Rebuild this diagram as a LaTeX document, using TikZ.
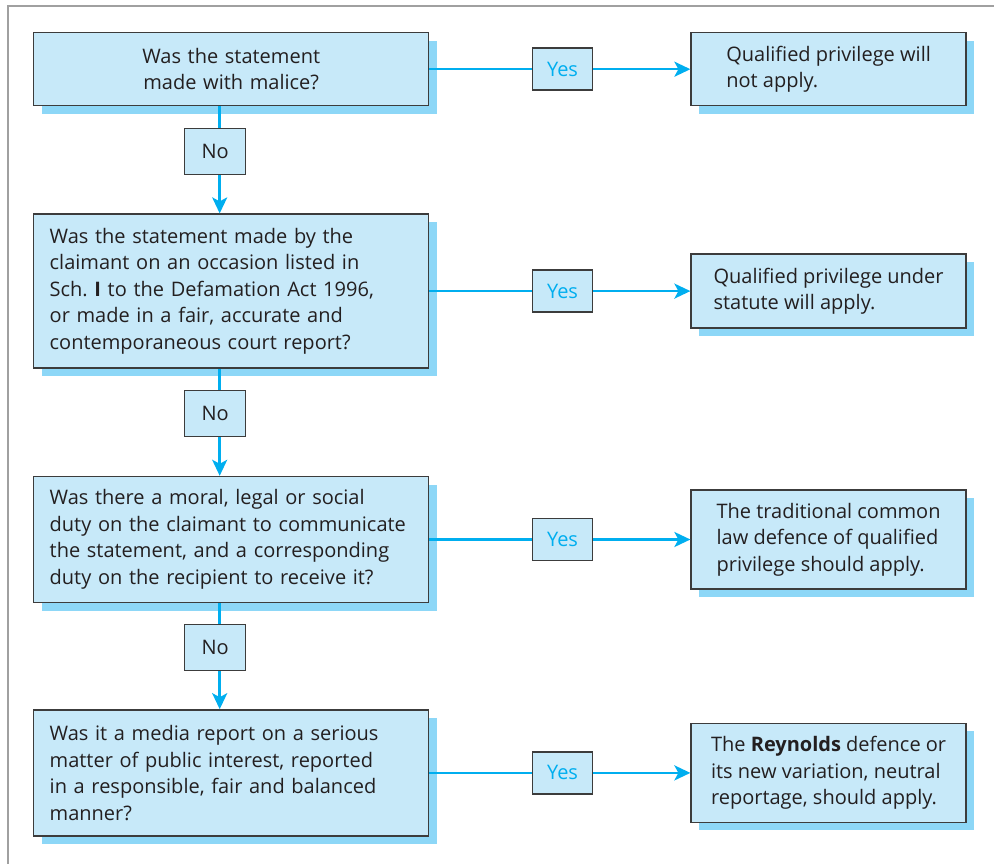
\documentclass[tikz,border=0pt]{standalone}
\usepackage{fontspec}
\setmainfont{Open Sans}
\usetikzlibrary{arrows.meta,positioning,shadows}
\definecolor{boxfill}{RGB}{199,233,249}
\definecolor{shadowblue}{RGB}{141,215,247}
\definecolor{flowcyan}{RGB}{0,174,239}
\definecolor{boxline}{RGB}{60,60,60}
\definecolor{ink}{RGB}{35,31,32}
\definecolor{framegrey}{RGB}{160,160,160}
\tikzset{%
  >={Stealth[length=16pt,width=15pt,inset=4pt]},
  % Specifications for style of nodes:
          base/.style = {rectangle, draw=boxline, line width=1.4pt, fill=boxfill,
                         text=ink, font=\fontsize{20}{26.5}\selectfont},
      shadowed/.style = {drop shadow={shadow xshift=8pt, shadow yshift=-8pt,
                         fill=shadowblue, opacity=1}},
      question/.style = {base, shadowed, text width=363pt, inner xsep=16pt, align=left},
        answer/.style = {base, shadowed, minimum width=275pt, align=left},
        yesbox/.style = {base, minimum width=60pt, minimum height=42pt, text=flowcyan},
         nobox/.style = {base, minimum width=61pt, minimum height=46pt},
          flow/.style = {draw=flowcyan, line width=2.5pt},
}

\begin{document}
\begin{tikzpicture}[x=1pt, y=1pt]
    \useasboundingbox (0,0) rectangle (994,-864);
    \draw [framegrey, line width=2.5pt] (994,-6) -- (8,-6) -- (8,-864);

    \node (malice) [question, align=center, minimum height=73pt, anchor=north west] at (33,-32)
        {Was the statement\\made with malice?};
    \node (sch_one) [question, minimum height=154pt, below = 107pt of malice]
        {Was the statement made by the\\claimant on an occasion listed in\\Sch.\ \textbf{I} to the Defamation Act 1996,\\or made in a fair, accurate and\\contemporaneous court report?};
    \node (duty) [question, minimum height=126pt, below = 107pt of sch_one]
        {Was there a moral, legal or social\\duty on the claimant to communicate\\the statement, and a corresponding\\duty on the recipient to receive it?};
    \node (media_report) [question, minimum height=126pt, below = 106pt of duty]
        {Was it a media report on a serious\\matter of public interest, reported\\in a responsible, fair and balanced\\manner?};

    \node (not_apply) [answer, minimum height=73pt, right = 261pt of malice]
        {Qualified privilege will\\not apply.};
    \node (statute_applies) [answer, minimum height=74pt, right = 261pt of sch_one]
        {Qualified privilege under\\statute will apply.};
    \node (common_law) [answer, minimum height=99pt, right = 261pt of duty]
        {The traditional common\\law defence of qualified\\privilege should apply.};
    \node (reynolds) [answer, minimum height=99pt, right = 261pt of media_report]
        {The \textbf{Reynolds} defence or\\its new variation, neutral\\reportage, should apply.};

    \draw [flow, ->] (malice) -- node [yesbox, pos=0.51] (yes_malice) {Yes} (not_apply);
    \draw [flow, ->] (sch_one) -- node [yesbox, pos=0.51] (yes_statute) {Yes} (statute_applies);
    \draw [flow, ->] (duty) -- node [yesbox, pos=0.51] (yes_duty) {Yes} (common_law);
    \draw [flow, ->] (media_report) -- node [yesbox, pos=0.51] (yes_media) {Yes} (reynolds);

    \draw [flow, ->] ([xshift=-11.5pt]malice.south) -- node [nobox, pos=0.42, xshift=-4.5pt] (no_malice) {No} ([xshift=-11.5pt]sch_one.north);
    \draw [flow, ->] ([xshift=-11.5pt]sch_one.south) -- node [nobox, pos=0.42, xshift=-4.5pt] (no_statute) {No} ([xshift=-11.5pt]duty.north);
    \draw [flow, ->] ([xshift=-11.5pt]duty.south) -- node [nobox, pos=0.42, xshift=-4.5pt] (no_duty) {No} ([xshift=-11.5pt]media_report.north);
\end{tikzpicture}
\end{document}
